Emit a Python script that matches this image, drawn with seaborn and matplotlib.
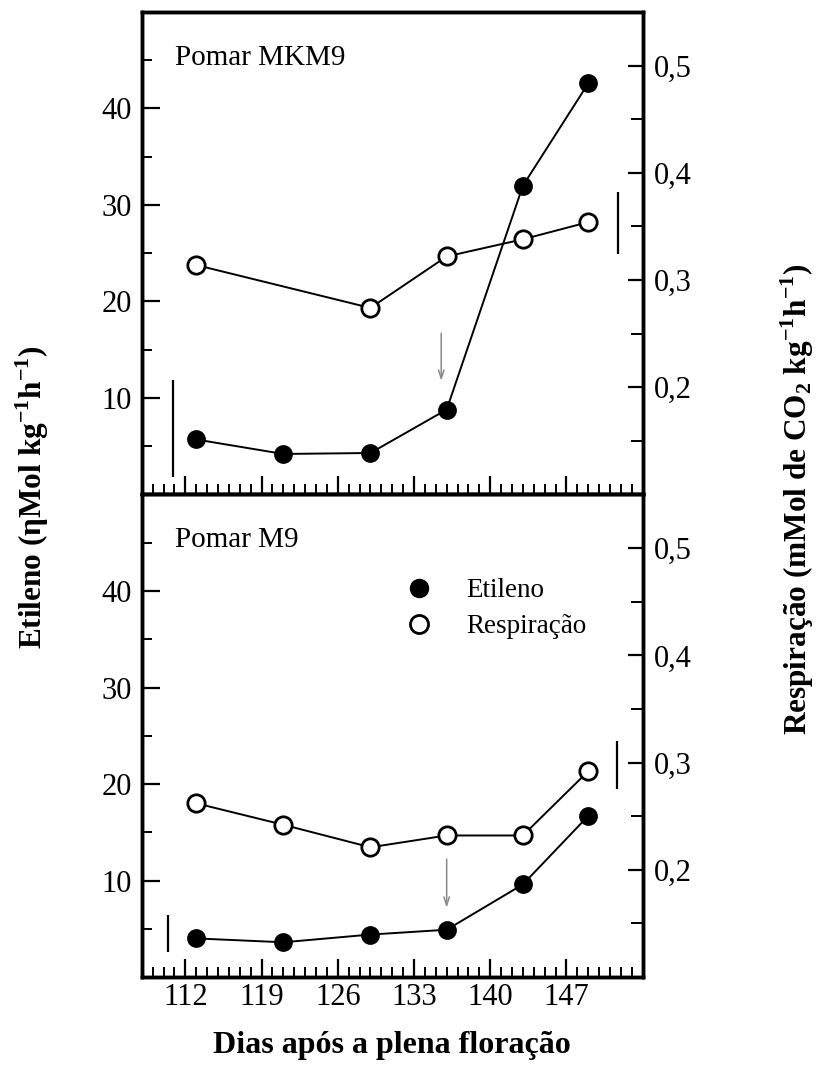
import numpy as np
import matplotlib
matplotlib.use("Agg")
import matplotlib.pyplot as plt
from matplotlib.ticker import FixedLocator, MultipleLocator, FuncFormatter
from matplotlib.lines import Line2D
import pandas as pd
import seaborn as sns

sns.set_style("ticks")
plt.rcParams['font.family'] = ['Liberation Serif', 'DejaVu Serif']
plt.rcParams['mathtext.fontset'] = 'custom'
plt.rcParams['mathtext.rm'] = 'Liberation Serif'
plt.rcParams['mathtext.bf'] = 'Liberation Serif:bold'
for k in ('text.color', 'axes.labelcolor', 'xtick.color', 'ytick.color'):
    plt.rcParams[k] = 'black'

# dias apos a plena floracao
dias = [113, 121, 129, 136, 143, 149]

# Pomar MKM9
etileno_mkm9 = [5.7, 4.2, 4.3, 8.8, 32.0, 42.6]
dias_resp_mkm9 = [113, 129, 136, 143, 149]
resp_mkm9 = [0.314, 0.274, 0.322, 0.338, 0.354]

# Pomar M9
etileno_m9 = [4.0, 3.6, 4.4, 4.9, 9.6, 16.7]
resp_m9 = [0.262, 0.242, 0.221, 0.232, 0.232, 0.292]

# barras de DMS (x, inferior, superior)
dms_etileno = {'MKM9': (110.9, 1.8, 11.9), 'M9': (110.4, 2.6, 6.4)}
dms_resp = {'MKM9': (151.7, 0.324, 0.382), 'M9': (151.6, 0.275, 0.320)}

# setas (x, de, ate) no eixo do etileno
setas = {'MKM9': (135.5, 17.0, 11.5), 'M9': (136.0, 12.5, 6.9)}

paineis = [
    ('MKM9', 'Pomar MKM9',
     pd.DataFrame({'dias': dias, 'etileno': etileno_mkm9}),
     pd.DataFrame({'dias': dias_resp_mkm9, 'resp': resp_mkm9})),
    ('M9', 'Pomar M9',
     pd.DataFrame({'dias': dias, 'etileno': etileno_m9}),
     pd.DataFrame({'dias': dias, 'resp': resp_m9})),
]

fig, axes = plt.subplots(2, 1, figsize=(8.24, 10.88), dpi=100, sharex=True)
fig.subplots_adjust(left=0.172, right=0.780, top=0.989, bottom=0.102, hspace=0)

virgula = FuncFormatter(lambda v, p: f"{v:.1f}".replace('.', ','))

for ax, (chave, titulo, df_et, df_resp) in zip(axes, paineis):
    axr = ax.twinx()

    sns.lineplot(data=df_et, x='dias', y='etileno', ax=ax, color='black',
                 lw=1.4, marker='o', markersize=12.5, markerfacecolor='black',
                 markeredgecolor='black', markeredgewidth=1, legend=False)
    sns.lineplot(data=df_resp, x='dias', y='resp', ax=axr, color='black',
                 lw=1.4, marker='o', markersize=12.5, markerfacecolor='white',
                 markeredgecolor='black', markeredgewidth=2, legend=False)

    x, y0, y1 = dms_etileno[chave]
    ax.vlines(x, y0, y1, color='black', lw=1.6)
    x, y0, y1 = dms_resp[chave]
    axr.vlines(x, y0, y1, color='black', lw=1.6)

    x, y0, y1 = setas[chave]
    ax.annotate('', xy=(x, y1), xytext=(x, y0),
                arrowprops=dict(arrowstyle='->,head_length=0.6,head_width=0.2',
                                color='#8a8a8a', lw=1.1))

    ax.set_xlim(108, 154)
    ax.set_ylim(0, 50)
    axr.set_ylim(0.1, 0.55)
    ax.xaxis.set_major_locator(FixedLocator([112, 119, 126, 133, 140, 147]))
    ax.xaxis.set_minor_locator(MultipleLocator(1))
    ax.yaxis.set_major_locator(FixedLocator([10, 20, 30, 40]))
    ax.yaxis.set_minor_locator(FixedLocator([5, 15, 25, 35, 45]))
    axr.yaxis.set_major_locator(FixedLocator([0.2, 0.3, 0.4, 0.5]))
    axr.yaxis.set_minor_locator(FixedLocator([0.15, 0.25, 0.35, 0.45]))
    axr.yaxis.set_major_formatter(virgula)

    ax.tick_params(which='major', direction='in', length=13, width=1.6,
                   labelsize=22, pad=7)
    ax.tick_params(which='minor', direction='in', length=7, width=1.4)
    axr.tick_params(which='major', direction='in', length=11, width=1.6,
                    labelsize=22, pad=8)
    axr.tick_params(which='minor', direction='in', length=9, width=1.4)

    for a in (ax, axr):
        for s in a.spines.values():
            s.set_linewidth(2.5)
            s.set_color('black')

    ax.set_xlabel('')
    ax.set_ylabel('')
    axr.set_ylabel('')
    ax.text(0.066, 0.905, titulo, transform=ax.transAxes, fontsize=21,
            va='center', ha='left')

axes[0].tick_params(axis='x', labelbottom=False)
axes[1].tick_params(axis='x', pad=4)
axes[1].set_xlabel('Dias após a plena floração', fontsize=23,
                   fontweight='bold', labelpad=14)

handles = [
    Line2D([], [], ls='none', marker='o', markersize=13, markerfacecolor='black',
           markeredgecolor='black', markeredgewidth=1),
    Line2D([], [], ls='none', marker='o', markersize=13, markerfacecolor='white',
           markeredgecolor='black', markeredgewidth=2),
]
axes[1].legend(handles, ['Etileno', 'Respiração'], loc='center left',
               bbox_to_anchor=(0.473, 0.763), frameon=False, fontsize=19.5,
               handletextpad=0.75, labelspacing=0.4, borderpad=0)

fig.text(0.039, 0.543, 'Etileno (ηMol kg$^{\\mathbf{-1}}$h$^{\\mathbf{-1}}$)',
         rotation=90, ha='center', va='center', fontsize=22.5, fontweight='bold')
fig.text(0.968, 0.541,
         'Respiração (mMol de CO$_{\\mathbf{2}}$ kg$^{\\mathbf{-1}}$h$^{\\mathbf{-1}}$)',
         rotation=90, ha='center', va='center', fontsize=22.5, fontweight='bold')

fig.savefig('out.png', dpi=100)
